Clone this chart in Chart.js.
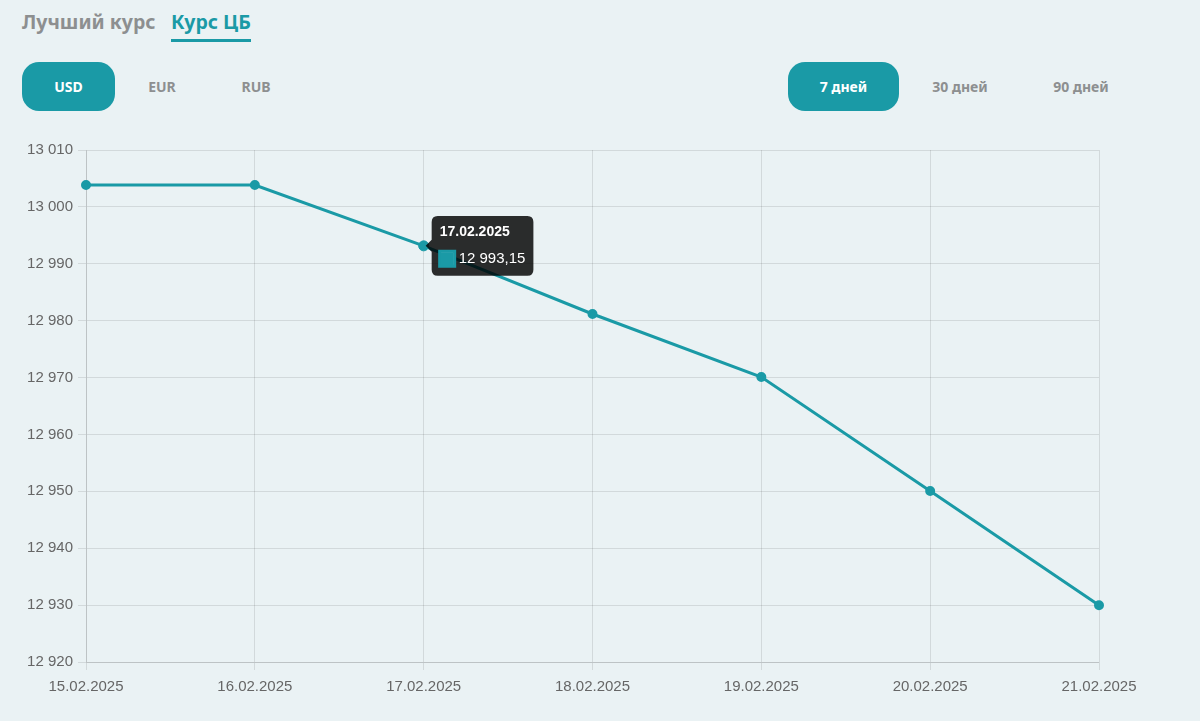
<!DOCTYPE html>
<html lang="ru">
<head>
<meta charset="utf-8">
<title>Курс ЦБ</title>
<script src="https://cdn.jsdelivr.net/npm/chart.js@4"></script>
<style>
    html, body { margin: 0; padding: 0; }
    body {
        width: 1200px;
        height: 721px;
        background: #eaf2f4;
        position: relative;
        overflow: hidden;
        font-family: "Noto Sans", Lato, sans-serif;
    }
    .tab {
        position: absolute;
        top: 8px;
        font-size: 19.5px;
        font-weight: 700;
        color: #8d8f90;
    }
    .tab.active {
        color: #1a9aa6;
        border-bottom: 3px solid #1a9aa6;
        padding-bottom: 4px;
    }
    .btn {
        position: absolute;
        top: 62px;
        height: 49px;
        line-height: 49px;
        border-radius: 17px;
        text-align: center;
        font-size: 14px;
        font-weight: 700;
        color: #8d8f90;
    }
    .btn.active {
        background: #1a9aa6;
        color: #fff;
    }
    #wrap {
        position: absolute;
        left: 0;
        top: 130px;
        width: 1200px;
        height: 591px;
    }
</style>
</head>
<body>
<div class="tab" style="left:22px">Лучший курс</div>
<div class="tab active" style="left:171px">Курс ЦБ</div>

<div class="btn active" style="left:22px;width:93px">USD</div>
<div class="btn" style="left:130px;width:64px">EUR</div>
<div class="btn" style="left:224px;width:64px">RUB</div>

<div class="btn active" style="left:788px;width:111px">7 дней</div>
<div class="btn" style="left:910px;width:100px">30 дней</div>
<div class="btn" style="left:1031px;width:100px">90 дней</div>

<div id="wrap"><canvas id="rateChart"></canvas></div>

<script>
// курс USD по ЦБ за 7 дней
const dates = ['15.02.2025', '16.02.2025', '17.02.2025', '18.02.2025', '19.02.2025', '20.02.2025', '21.02.2025'];
const rates = [13003.85, 13003.85, 12993.15, 12981.17, 12970.10, 12950.06, 12929.98];
const yMin = 12920;
const yMax = 13010;
const yStep = 10;
const activeIndex = 2; // подсказка на 17.02

document.addEventListener('DOMContentLoaded', function () {
    const teal = '#1a9aa6';
    const ctx = document.getElementById('rateChart').getContext('2d');

    Chart.defaults.font.family = '"Liberation Sans", Arial, sans-serif';
    Chart.defaults.color = '#666';

    const chart = new Chart(ctx, {
        type: 'line',
        data: {
            labels: dates,
            datasets: [{
                data: rates,
                borderColor: teal,
                backgroundColor: teal,
                borderWidth: 3,
                pointRadius: 3.5,
                pointHoverRadius: 5,
                pointBackgroundColor: teal,
                pointHoverBackgroundColor: teal,
                pointBorderColor: teal,
                pointHoverBorderColor: teal,
                tension: 0
            }]
        },
        options: {
            responsive: true,
            maintainAspectRatio: false,
            animation: false,
            locale: 'ru-RU',
            layout: {
                padding: { left: 0, right: 101, top: 20, bottom: 0 }
            },
            interaction: { mode: 'index', intersect: false },
            plugins: {
                legend: { display: false },
                tooltip: {
                    backgroundColor: 'rgba(0,0,0,0.82)',
                    titleFont: { size: 14, weight: 'bold' },
                    bodyFont: { size: 15 },
                    titleMarginBottom: 9,
                    padding: { x: 8, y: 8 },
                    cornerRadius: 6,
                    caretSize: 6,
                    boxPadding: 2,
                    multiKeyBackground: '#fff'
                }
            },
            scales: {
                x: {
                    grid: { color: 'rgba(0,0,0,0.1)', tickLength: 8 },
                    ticks: { font: { size: 15 }, padding: 8, maxRotation: 0 },
                    afterFit: function (scale) { scale.height = 59; }
                },
                y: {
                    min: yMin,
                    max: yMax,
                    grid: { color: 'rgba(0,0,0,0.1)', tickLength: 8 },
                    ticks: { stepSize: yStep, font: { size: 15 }, padding: 5 },
                    afterFit: function (scale) { scale.width = 86; }
                }
            }
        }
    });

    const active = [{ datasetIndex: 0, index: activeIndex }];
    chart.setActiveElements(active);
    chart.tooltip.setActiveElements(active, { x: 0, y: 0 });
    chart.update();
});
</script>
</body>
</html>
